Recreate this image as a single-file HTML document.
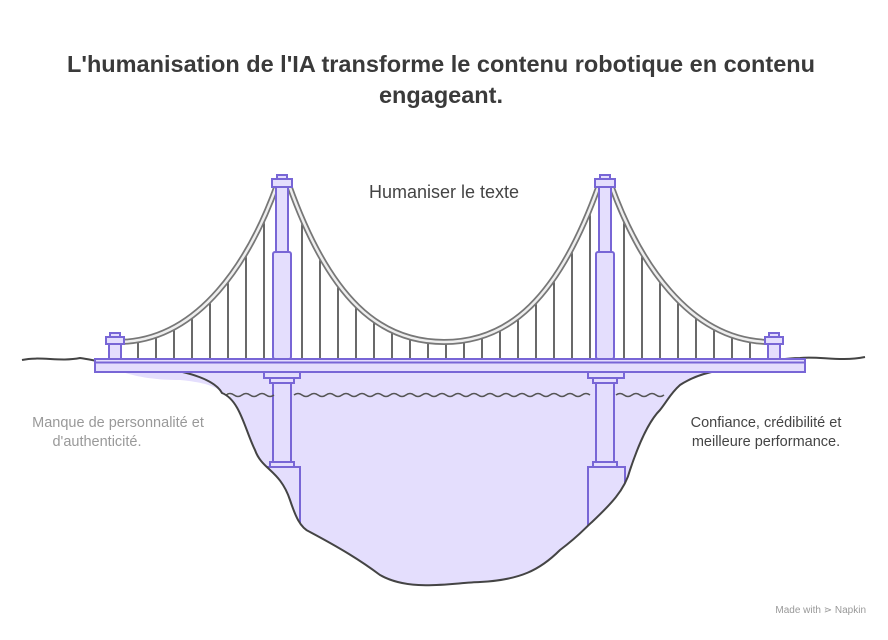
<!DOCTYPE html>
<html><head><meta charset="utf-8"><style>
body{margin:0;background:#fff;width:888px;height:635px;overflow:hidden;font-family:"Liberation Sans",Arial,sans-serif}
</style></head><body>
<svg width="888" height="635" viewBox="0 0 888 635" xmlns="http://www.w3.org/2000/svg">
<defs>
<clipPath id="hc"><path d="M100,360 L120,342 C200,340 250,260 277,185 L289,185 C330,300 380,342 444,342 C508,342 558,300 599,185 L611,185 C638,260 688,340 768,342 L790,360 Z"/></clipPath>
</defs>
<text x="441" y="72" text-anchor="middle" font-size="23.5" font-weight="bold" fill="#3a3a3a">L'humanisation de l'IA transforme le contenu robotique en contenu</text>
<text x="441" y="103" text-anchor="middle" font-size="23.5" font-weight="bold" fill="#3a3a3a">engageant.</text>
<text x="444" y="198" text-anchor="middle" font-size="18" fill="#444">Humaniser le texte</text>
<text x="118" y="427" text-anchor="middle" font-size="14.5" fill="#999">Manque de personnalité et</text>
<text x="97" y="446" text-anchor="middle" font-size="14.5" fill="#999">d'authenticité.</text>
<text x="766" y="427" text-anchor="middle" font-size="14.5" fill="#444">Confiance, crédibilité et</text>
<text x="766" y="446" text-anchor="middle" font-size="14.5" fill="#444">meilleure performance.</text>
<text x="866" y="613" text-anchor="end" font-size="10" fill="#999">Made with ⋗ Napkin</text>

<path d="M95,362 C120,372 140,380 180,380 C200,382 215,385 222,393 C240,400 245,430 255,450 C262,470 280,470 290,500 C295,515 300,528 310,532 C340,548 360,560 380,575 C410,592 450,583 480,582 C520,580 540,570 560,550 C580,535 585,528 592,522 C610,505 625,490 630,470 C640,440 650,420 660,410 C668,400 670,394 680,385 C700,372 720,368 740,368 C770,368 790,362 805,360 L805,372 L95,372 Z" fill="#e4defd"/>

<g clip-path="url(#hc)" stroke="#444" stroke-width="1.6">
<line x1="138" y1="330" x2="138" y2="360"/><line x1="156" y1="300" x2="156" y2="360"/><line x1="174" y1="300" x2="174" y2="360"/><line x1="192" y1="300" x2="192" y2="360"/><line x1="210" y1="250" x2="210" y2="360"/><line x1="228" y1="200" x2="228" y2="360"/><line x1="246" y1="200" x2="246" y2="360"/><line x1="264" y1="190" x2="264" y2="360"/>
<line x1="302" y1="190" x2="302" y2="360"/><line x1="320" y1="190" x2="320" y2="360"/><line x1="338" y1="190" x2="338" y2="360"/><line x1="356" y1="190" x2="356" y2="360"/><line x1="374" y1="190" x2="374" y2="360"/><line x1="392" y1="190" x2="392" y2="360"/><line x1="410" y1="190" x2="410" y2="360"/><line x1="428" y1="190" x2="428" y2="360"/><line x1="446" y1="190" x2="446" y2="360"/><line x1="464" y1="190" x2="464" y2="360"/><line x1="482" y1="190" x2="482" y2="360"/><line x1="500" y1="190" x2="500" y2="360"/><line x1="518" y1="190" x2="518" y2="360"/><line x1="536" y1="190" x2="536" y2="360"/><line x1="554" y1="190" x2="554" y2="360"/><line x1="572" y1="190" x2="572" y2="360"/><line x1="590" y1="190" x2="590" y2="360"/>
<line x1="624" y1="190" x2="624" y2="360"/><line x1="642" y1="190" x2="642" y2="360"/><line x1="660" y1="190" x2="660" y2="360"/><line x1="678" y1="190" x2="678" y2="360"/><line x1="696" y1="190" x2="696" y2="360"/><line x1="714" y1="190" x2="714" y2="360"/><line x1="732" y1="190" x2="732" y2="360"/><line x1="750" y1="190" x2="750" y2="360"/>
</g>
<g fill="none">
<path d="M120,342 C200,340 250,260 277,185 M289,185 C330,300 380,342 444,342 C508,342 558,300 599,185 M611,185 C638,260 688,340 768,342" stroke="#777" stroke-width="6"/>
<path d="M120,342 C200,340 250,260 277,185 M289,185 C330,300 380,342 444,342 C508,342 558,300 599,185 M611,185 C638,260 688,340 768,342" stroke="#eee" stroke-width="2.5"/>
</g>

<g fill="#e4defd" stroke="#7866d6" stroke-width="2">
<rect x="109" y="344" width="12" height="15"/><rect x="106" y="337" width="18" height="7"/><rect x="110" y="333" width="10" height="4"/>
<rect x="768" y="344" width="12" height="15"/><rect x="765" y="337" width="18" height="7"/><rect x="769" y="333" width="10" height="4"/>
<rect x="273" y="252" width="18" height="107" rx="2"/><rect x="276" y="187" width="12" height="65"/><rect x="272" y="179" width="20" height="8"/><rect x="277" y="175" width="10" height="4"/>
<rect x="596" y="252" width="18" height="107" rx="2"/><rect x="599" y="187" width="12" height="65"/><rect x="595" y="179" width="20" height="8"/><rect x="600" y="175" width="10" height="4"/>
<rect x="264" y="372" width="36" height="6"/><rect x="270" y="378" width="24" height="5"/><rect x="273" y="383" width="18" height="79"/><rect x="270" y="462" width="24" height="5"/><rect x="263" y="467" width="37" height="60"/>
<rect x="588" y="372" width="36" height="6"/><rect x="593" y="378" width="24" height="5"/><rect x="596" y="383" width="18" height="79"/><rect x="593" y="462" width="24" height="5"/><rect x="588" y="467" width="37" height="60"/>
</g>
<path d="M222,393 C240,400 245,430 255,450 C262,470 280,470 290,500 C295,515 300,528 310,532 L230,532 L230,393 Z" fill="#fff"/>
<path d="M672,392 C670,394 668,400 660,410 C650,420 640,440 630,470 C625,490 610,505 592,522 L585,530 L680,530 L680,392 Z" fill="#fff"/>
<path d="M226,395 q4,-3 8,0 t8,0 t8,0 t8,0 t8,0 t8,0 M294,395 q4,-3 8,0 t8,0 t8,0 t8,0 t8,0 t8,0 t8,0 t8,0 t8,0 t8,0 t8,0 t8,0 t8,0 t8,0 t8,0 t8,0 t8,0 t8,0 t8,0 t8,0 t8,0 t8,0 t8,0 t8,0 t8,0 t8,0 t8,0 t8,0 t8,0 t8,0 t8,0 t8,0 t8,0 t8,0 t8,0 t8,0 t8,0 M616,395 q4,-3 8,0 t8,0 t8,0 t8,0 t8,0 t8,0" fill="none" stroke="#555" stroke-width="1.5"/>
<path d="M22,360 C40,356 60,362 80,358 C110,362 130,372 160,368 C190,372 215,380 222,393 C240,400 245,430 255,450 C262,470 280,470 290,500 C295,515 300,528 310,532 C340,548 360,560 380,575 C410,592 450,583 480,582 C520,580 540,570 560,550 C580,535 585,528 592,522 C610,505 625,490 630,470 C640,440 650,420 660,410 C668,400 670,394 680,385 C700,372 720,370 740,368 C760,366 775,358 800,358 C820,356 840,362 865,357" fill="none" stroke="#444" stroke-width="2"/>
<g fill="#e4defd" stroke="#7866d6" stroke-width="2">
<rect x="95" y="359" width="710" height="13"/>
<line x1="95" y1="362.5" x2="805" y2="362.5"/>
</g>
</svg>
</body></html>
